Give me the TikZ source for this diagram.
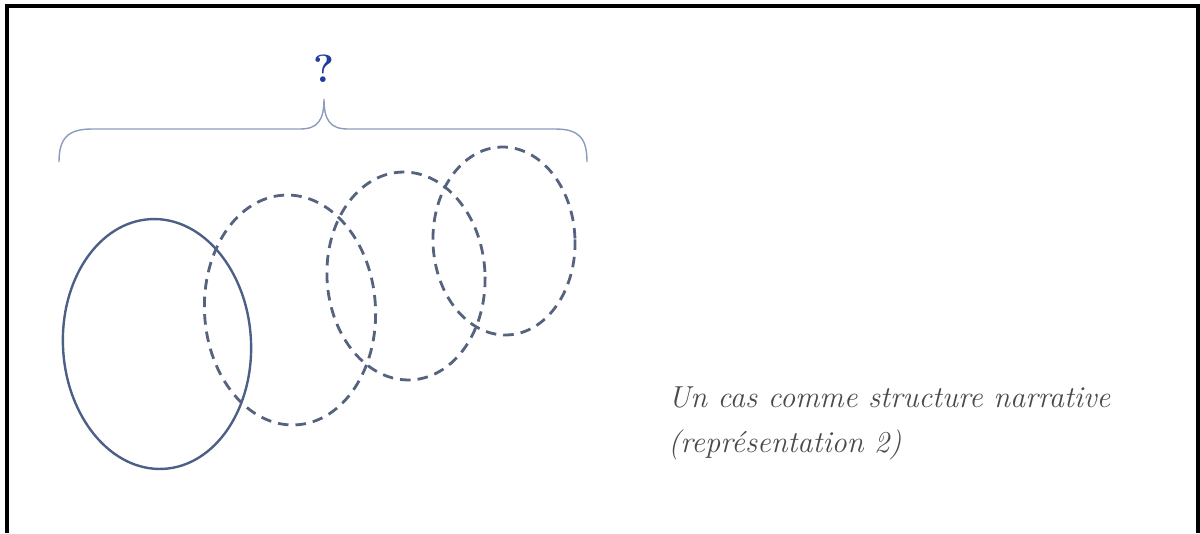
\documentclass[tikz,border=0pt]{standalone}
\usepackage{fontspec}
\usetikzlibrary{shapes.geometric}
\definecolor{ringblue}{HTML}{4C5F87}
\definecolor{ghostblue}{HTML}{56637F}
\definecolor{braceblue}{HTML}{8A9DBB}
\definecolor{askblue}{HTML}{1F3C9E}
\definecolor{captiongray}{HTML}{4A4A4A}

\begin{document}
\begin{tikzpicture}[x=0.025cm, y=-0.025cm,
  ring/.style={ellipse, draw=ringblue, line width=1.7pt, inner sep=0pt, outer sep=0pt},
  ghost/.style={ellipse, draw=ghostblue, line width=2pt, dash pattern=on 7.5pt off 5pt, inner sep=0pt, outer sep=0pt}]
\useasboundingbox (0,0) rectangle (1200,533);
\draw[line width=2.6pt] (7,533) -- (7,6) -- (1198,6) -- (1198,533);

\node[ring, minimum width=4.7cm, minimum height=6.25cm, rotate=3] (case) at (157, 344) {};
\node[ghost, minimum width=4.275cm, minimum height=5.75cm, rotate=3] (ghost1) at (290, 310) {};
\node[ghost, minimum width=3.95cm, minimum height=5.2cm, rotate=3] (ghost2) at (406, 276) {};
\node[ghost, minimum width=3.55cm, minimum height=4.7cm, rotate=2] (ghost3) at (504, 241) {};

\coordinate (braceleft) at (59, 162);
\coordinate (bracetip) at (324, 99);
\coordinate (braceright) at (587, 162);
\draw[braceblue, line width=1pt] (braceleft) .. controls (59, 138) and (68, 129) .. (92, 129) -- (300, 129) .. controls (318, 129) and (324, 120) .. (bracetip)
  .. controls (324, 120) and (330, 129) .. (348, 129) -- (555, 129) .. controls (579, 129) and (587, 138) .. (braceright);

\node[text=askblue, font=\fontsize{28}{30}\selectfont\bfseries] (ask) at (324, 69) {?};

\node[align=left, anchor=north west, inner sep=0pt, text=captiongray, font=\fontsize{21.6}{32}\selectfont\itshape\addfontfeature{FakeBold=0.6}] (caption) at (668, 386) {Un cas comme structure narrative\\(représentation 2)};

\end{tikzpicture}
\end{document}
